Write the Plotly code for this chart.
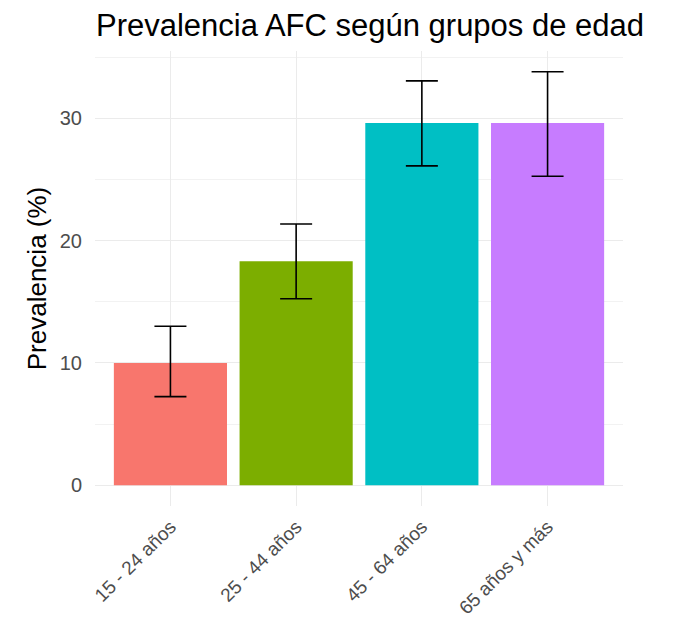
import plotly.graph_objects as go

categories = ["15 - 24 años", "25 - 44 años", "45 - 64 años", "65 años y más"]
prevalence = [10.0, 18.3, 29.6, 29.6]
ci_low = [7.25, 15.25, 26.1, 25.25]
ci_high = [13.0, 21.35, 33.05, 33.8]
colors = ["#F8766D", "#7CAE00", "#00BFC4", "#C77CFF"]
y_ticks = [0, 10, 20, 30]

err_plus = [h - p for h, p in zip(ci_high, prevalence)]
err_minus = [p - l for p, l in zip(prevalence, ci_low)]

fig = go.Figure()
fig.add_trace(go.Bar(
    x=categories,
    y=prevalence,
    marker=dict(color=colors, line=dict(width=0)),
    width=0.9,
    error_y=dict(type="data", symmetric=False, array=err_plus, arrayminus=err_minus,
                 color="black", thickness=1.6, width=16),
    showlegend=False,
))

ymax = max(ci_high)
pad = ymax * 0.05

fig.update_layout(
    width=674, height=625,
    margin=dict(l=95, r=51, t=51, b=119),
    paper_bgcolor="white", plot_bgcolor="white",
    font=dict(family="Liberation Sans, Arial, sans-serif", color="#4D4D4D"),
    title=dict(text="Prevalencia AFC según grupos de edad",
               x=96/674, xref="container", xanchor="left",
               y=1 - 25/625, yref="container", yanchor="middle",
               font=dict(size=31, color="black")),
    bargap=0.1,
)
fig.update_xaxes(
    type="category",
    range=[-0.6, 3.6],
    tickangle=-45,
    tickfont=dict(size=19, color="#4D4D4D"),
    showgrid=True, gridcolor="#EBEBEB", gridwidth=1.4,
    zeroline=False, showline=False, ticks="",
    ticklabelstandoff=5,
    automargin=False,
)
fig.update_yaxes(
    range=[-pad, ymax + pad],
    tickvals=y_ticks,
    tickfont=dict(size=20, color="#4D4D4D"),
    showgrid=True, gridcolor="#EBEBEB", gridwidth=1.4,
    minor=dict(tickvals=[5, 15, 25, 35], showgrid=True, gridcolor="#F2F2F2", gridwidth=0.9),
    zeroline=False, showline=False, ticks="",
    ticklabelstandoff=12,
    automargin=False,
    title=dict(text="Prevalencia (%)", font=dict(size=26, color="black"), standoff=5),
)

fig.write_html("out.html")
